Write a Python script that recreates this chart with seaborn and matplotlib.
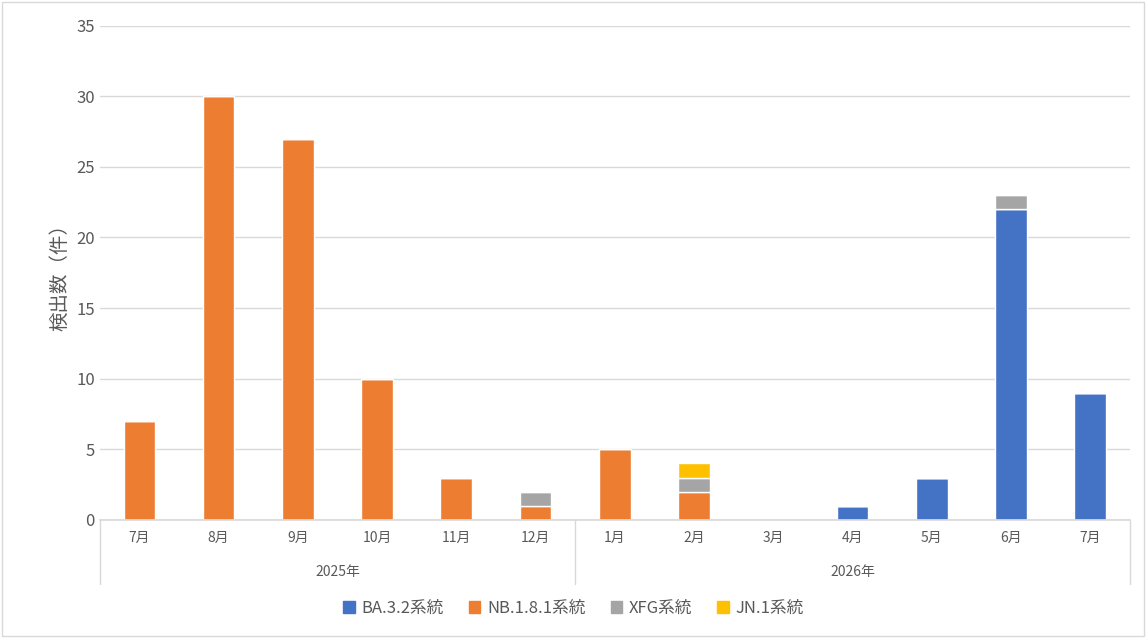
import matplotlib
matplotlib.use("Agg")
import matplotlib.pyplot as plt
import seaborn as sns
import pandas as pd
import numpy as np
from matplotlib.patches import Patch, Rectangle

months = ["7月","8月","9月","10月","11月","12月","1月","2月","3月","4月","5月","6月","7月"]
years = ["2025年", "2026年"]
year_counts = [6, 7]
ba32 = [0,0,0,0,0,0,0,0,0,1,3,22,9]
nb181 = [7,30,27,10,3,1,5,2,0,0,0,0,0]
xfg = [0,0,0,0,0,1,0,1,0,0,0,1,0]
jn1 = [0,0,0,0,0,0,0,1,0,0,0,0,0]
series = [("BA.3.2系統", ba32, "#4472C4"), ("NB.1.8.1系統", nb181, "#ED7D31"),
          ("XFG系統", xfg, "#A5A5A5"), ("JN.1系統", jn1, "#FFC000")]

sns.set_theme(style="white")
plt.rcParams['font.family'] = ['Noto Sans CJK JP', 'DejaVu Sans']

fig = plt.figure(figsize=(11.47, 6.38), dpi=100)
ax = fig.add_axes([0.087, 0.185, 0.898, 0.775])
x = [str(i) for i in range(len(months))]
bottom = np.zeros(len(months))
for name, vals, col in series:
    df = pd.DataFrame({"x": x, "y": vals})
    sns.barplot(data=df, x="x", y="y", color=col, width=0.4, bottom=bottom,
                ax=ax, saturation=1, order=x)
    bottom = bottom + np.array(vals)

ax.set_ylim(0, 35)
ax.set_xlim(-0.5, len(months) - 0.5)
ax.set_yticks(range(0, 36, 5))
ax.yaxis.grid(True, color="#D9D9D9", lw=1)
ax.set_axisbelow(True)
for s in ["top", "right", "left"]:
    ax.spines[s].set_visible(False)
ax.spines["bottom"].set_color("#D9D9D9")
ax.set_xticks(range(len(months)))
ax.set_xticklabels(months, fontsize=10, color="#595959")
ax.tick_params(axis="x", length=0, pad=8)
ax.tick_params(axis="y", labelsize=12, colors="#595959", length=0)
ax.set_xlabel("")
ax.set_ylabel("検出数（件）", fontsize=14, color="#595959")

trans = ax.get_xaxis_transform()
edges = np.concatenate([[0], np.cumsum(year_counts)]) - 0.5
for e in edges:
    ax.plot([e, e], [0, -0.13], transform=trans, color="#D9D9D9", lw=1, clip_on=False)
for i, yname in enumerate(years):
    ax.text((edges[i] + edges[i+1]) / 2, -0.105, yname, transform=trans,
            ha="center", va="center", fontsize=10, color="#595959")

handles = [Patch(color=c, label=n) for n, _, c in series]
fig.legend(handles=handles, loc="center", bbox_to_anchor=(0.5, 0.047), ncol=4,
           frameon=False, fontsize=12, handlelength=0.7, handleheight=0.7,
           columnspacing=1.5, handletextpad=0.4, labelcolor="#595959")
fig.patches.append(Rectangle((0.002, 0.003), 0.995, 0.994, transform=fig.transFigure,
                             fill=False, edgecolor="#D9D9D9", lw=1))
fig.savefig("out.png", dpi=100)
